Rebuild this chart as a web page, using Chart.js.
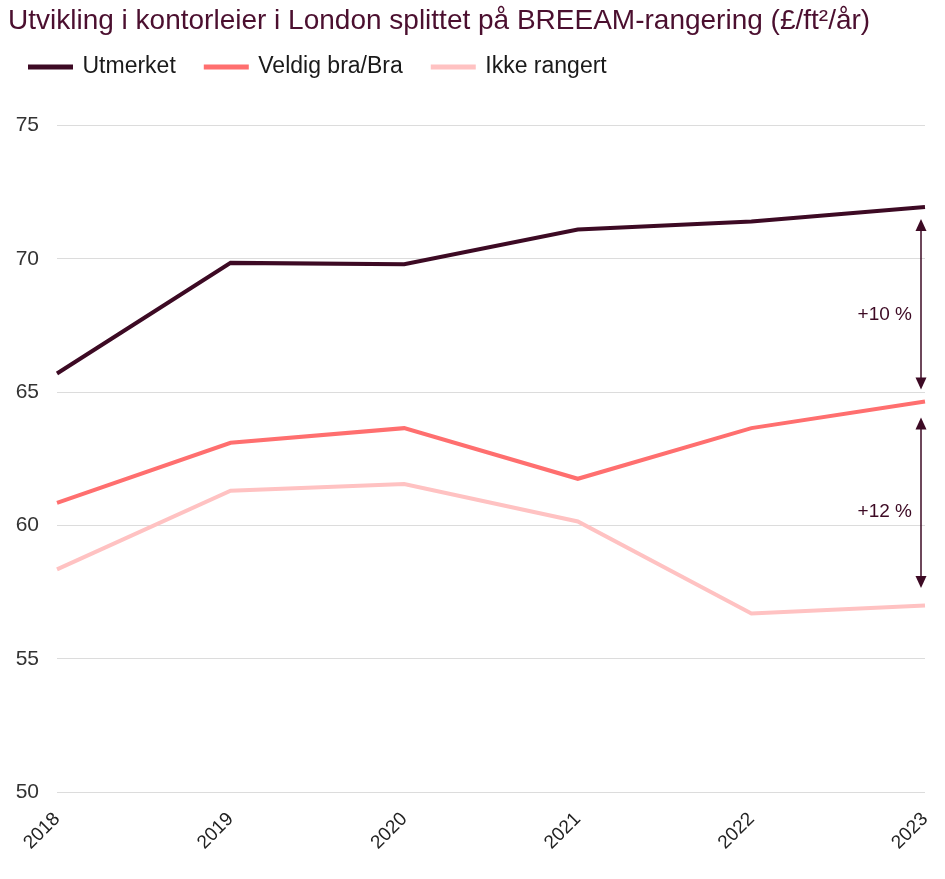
<!DOCTYPE html>
<html>
<head>
<meta charset="utf-8">
<script src="https://cdn.jsdelivr.net/npm/chart.js@4"></script>
<style>
  html, body { margin: 0; padding: 0; background: #fff; }
  #wrap { width: 945px; height: 879px; }
</style>
</head>
<body>
<div id="wrap"><canvas id="rentChart"></canvas></div>
<script>
// data
const years = ["2018", "2019", "2020", "2021", "2022", "2023"];
const utmerket = [65.7, 69.85, 69.8, 71.1, 71.4, 71.95];
const veldigBra = [60.85, 63.1, 63.65, 61.75, 63.65, 64.65];
const ikkeRangert = [58.35, 61.3, 61.55, 60.15, 56.7, 57.0];
const yTicks = [50, 55, 60, 65, 70, 75];

// piler til høyre (fra, til) og tekst
const arrowRanges = [[71.5, 65.1], [64.05, 57.65]];
const arrowLabels = ["+10 %", "+12 %"];
const arrowLabelAt = [67.9, 60.5];

const dark = "#3d0a24";
const red = "#ff6f6f";
const pink = "#ffc2c2";
const FONT = "'Liberation Sans', Arial, sans-serif";

// tegner pilene med prosent-tekst
const arrowPlugin = {
    id: "arrows",
    afterDatasetsDraw(chart) {
        const ctx = chart.ctx;
        const y = chart.scales.y;
        const x = chart.chartArea.right - 4;
        ctx.save();
        ctx.strokeStyle = dark;
        ctx.fillStyle = dark;
        ctx.lineWidth = 1.5;
        arrowRanges.forEach((r, i) => {
            const y1 = y.getPixelForValue(r[0]);
            const y2 = y.getPixelForValue(r[1]);
            ctx.beginPath();
            ctx.moveTo(x, y1 + 8);
            ctx.lineTo(x, y2 - 8);
            ctx.stroke();
            // pilspisser
            ctx.beginPath();
            ctx.moveTo(x, y1);
            ctx.lineTo(x - 5.5, y1 + 12);
            ctx.lineTo(x + 5.5, y1 + 12);
            ctx.closePath();
            ctx.fill();
            ctx.beginPath();
            ctx.moveTo(x, y2);
            ctx.lineTo(x - 5.5, y2 - 12);
            ctx.lineTo(x + 5.5, y2 - 12);
            ctx.closePath();
            ctx.fill();
            ctx.font = "19px " + FONT;
            ctx.textAlign = "right";
            ctx.textBaseline = "middle";
            ctx.fillText(arrowLabels[i], x - 9, y.getPixelForValue(arrowLabelAt[i]));
        });
        ctx.restore();
    }
};

// ekstra luft under legenden, og tittelen litt inn fra kanten
const layoutTweaks = {
    id: "layoutTweaks",
    beforeInit(chart) {
        const origFit = chart.legend.fit;
        chart.legend.fit = function () {
            origFit.bind(chart.legend)();
            this.height += 37;
        };
    },
    afterLayout(chart) {
        chart.titleBlock.left += 8;
        chart.titleBlock.right += 8;
    }
};

const ctx = document.getElementById("rentChart").getContext("2d");
new Chart(ctx, {
    type: "line",
    data: {
        labels: years,
        datasets: [
            { label: "Utmerket", data: utmerket, borderColor: dark, backgroundColor: dark },
            { label: "Veldig bra/Bra", data: veldigBra, borderColor: red, backgroundColor: red },
            { label: "Ikke rangert", data: ikkeRangert, borderColor: pink, backgroundColor: pink }
        ]
    },
    options: {
        responsive: true,
        maintainAspectRatio: false,
        animation: false,
        layout: { padding: { left: 0, right: 0, top: 0, bottom: 0 } },
        elements: {
            line: { borderWidth: 4, tension: 0 },
            point: { radius: 0 }
        },
        plugins: {
            title: {
                display: true,
                text: "Utvikling i kontorleier i London splittet på BREEAM-rangering (£/ft²/år)",
                align: "start",
                color: "#4b0f2f",
                font: { size: 28, weight: "normal", family: FONT },
                padding: { top: 4, bottom: -12 }
            },
            legend: {
                align: "start",
                labels: {
                    boxWidth: 41,
                    boxHeight: 1,
                    color: "#1a1a1a",
                    padding: 30,
                    font: { size: 23, family: FONT }
                }
            },
            tooltip: { enabled: false }
        },
        scales: {
            x: {
                grid: { display: false },
                border: { display: false },
                afterFit(scale) {
                    scale.height = 87;
                    scale.paddingRight = 20;
                },
                ticks: {
                    minRotation: 45,
                    maxRotation: 45,
                    padding: 8,
                    color: "#222",
                    font: { size: 19, family: FONT }
                }
            },
            y: {
                min: 50,
                max: 75,
                afterBuildTicks(scale) {
                    scale.ticks = yTicks.map(v => ({ value: v }));
                },
                afterFit(scale) { scale.width = 57; },
                grid: { color: "#dcdcdc", lineWidth: 1, drawTicks: false },
                border: { display: false },
                ticks: {
                    padding: 18,
                    color: "#333",
                    font: { size: 21, family: FONT }
                }
            }
        }
    },
    plugins: [arrowPlugin, layoutTweaks]
});
</script>
</body>
</html>
